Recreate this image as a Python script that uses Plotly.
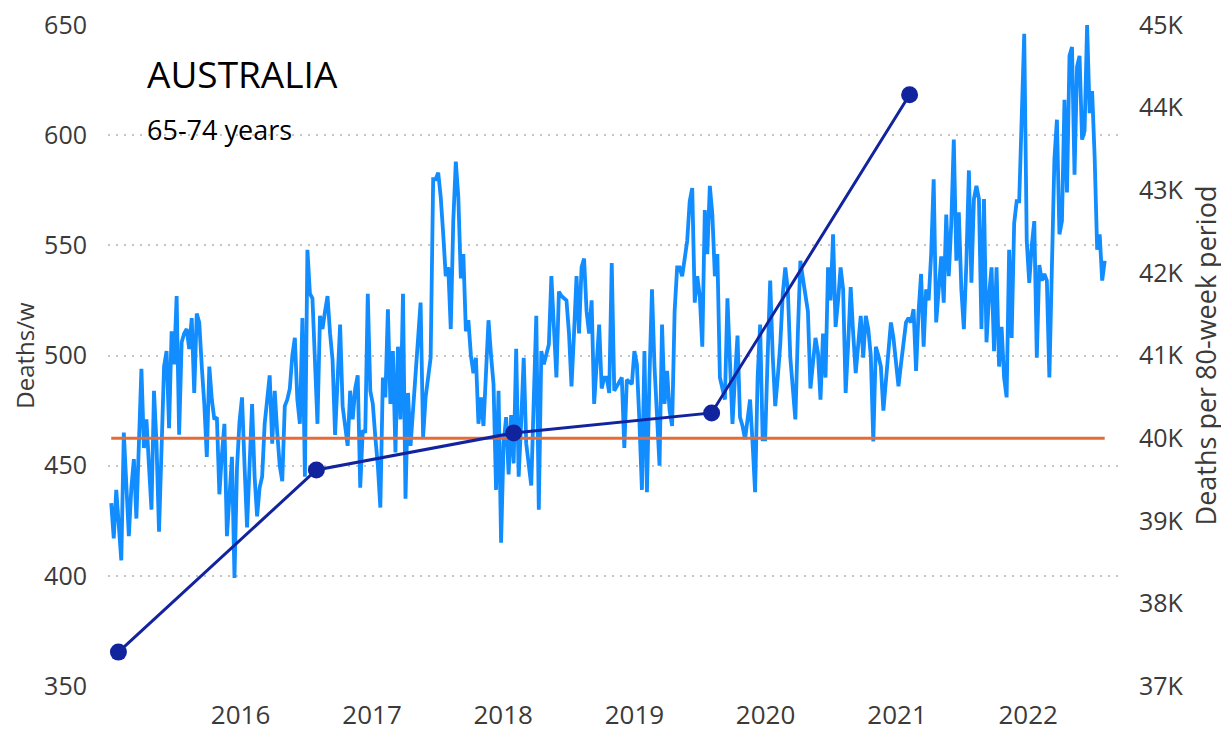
import datetime as dt
import plotly.graph_objects as go

# ---- Data -------------------------------------------------------------
START_WEEK = dt.date(2015, 1, 6)

weekly_deaths = [
    433, 417, 439, 425, 407, 465, 440, 418, 440, 453, 426, 460, 494, 458, 471, 450, 430, 484, 460, 420,
    460, 495, 502, 467, 511, 496, 527, 464, 506, 510, 512, 503, 517, 483, 519, 515, 495, 478, 454, 495,
    480, 471, 472, 437, 455, 469, 418, 440, 454, 399, 449, 470, 481, 450, 422, 450, 478, 445, 427, 440,
    445, 469, 480, 491, 460, 484, 465, 450, 443, 477, 480, 485, 500, 508, 480, 469, 517, 445, 548, 528,
    526, 495, 469, 518, 512, 520, 527, 510, 498, 464, 490, 514, 477, 468, 459, 484, 471, 485, 491, 440,
    466, 465, 528, 484, 478, 463, 450, 431, 490, 481, 521, 478, 502, 456, 504, 471, 528, 435, 483, 459,
    475, 489, 505, 524, 463, 481, 490, 499, 580, 580, 583, 572, 555, 536, 540, 512, 561, 588, 572, 535,
    546, 511, 516, 500, 492, 499, 469, 481, 468, 490, 516, 500, 487, 439, 484, 415, 460, 472, 446, 473,
    451, 503, 445, 470, 499, 460, 450, 441, 480, 518, 430, 502, 496, 500, 505, 536, 510, 490, 529, 527,
    526, 525, 510, 486, 510, 536, 510, 540, 544, 520, 510, 525, 478, 500, 514, 485, 490, 490, 483, 542,
    484, 486, 488, 490, 458, 489, 488, 487, 502, 496, 470, 439, 502, 438, 490, 530, 495, 470, 450, 514,
    478, 493, 475, 468, 520, 540, 540, 536, 545, 552, 570, 576, 524, 536, 527, 504, 566, 546, 577, 564,
    536, 546, 490, 485, 480, 526, 500, 469, 490, 509, 472, 468, 462, 470, 480, 460, 438, 490, 514, 462,
    462, 500, 534, 500, 477, 490, 505, 528, 540, 530, 499, 485, 471, 510, 543, 535, 527, 520, 485, 495,
    508, 501, 480, 510, 490, 540, 525, 555, 513, 525, 540, 530, 483, 505, 531, 510, 492, 505, 518, 499,
    518, 512, 500, 461, 504, 500, 495, 475, 490, 505, 515, 508, 495, 486, 496, 505, 515, 517, 515, 521,
    493, 520, 537, 504, 530, 525, 546, 580, 515, 530, 545, 524, 564, 536, 560, 598, 543, 565, 530, 512,
    542, 584, 533, 571, 577, 571, 512, 571, 506, 527, 540, 502, 540, 495, 513, 490, 481, 548, 508, 560,
    570, 570, 610, 646, 552, 533, 550, 561, 499, 541, 534, 537, 534, 490, 540, 589, 607, 555, 561, 616,
    574, 636, 640, 582, 631, 636, 598, 602, 650, 610, 620, 590, 548, 555, 534, 543,
]

period_dates = ["2015-01-26", "2016-07-30", "2018-01-30", "2019-08-04", "2021-02-05"]
period_deaths = [37410, 39615, 40063, 40305, 44155]

BASELINE = 40000

left_ticks = [350, 400, 450, 500, 550, 600, 650]
right_ticks = [37000, 38000, 39000, 40000, 41000, 42000, 43000, 44000, 45000]
right_tick_text = ["37K", "38K", "39K", "40K", "41K", "42K", "43K", "44K", "45K"]
year_ticks = ["2016-01-01", "2017-01-01", "2018-01-01", "2019-01-01",
              "2020-01-01", "2021-01-01", "2022-01-01"]
year_labels = ["2016", "2017", "2018", "2019", "2020", "2021", "2022"]

TITLE = "AUSTRALIA"
SUBTITLE = "65-74 years"

# ---- Figure -----------------------------------------------------------
week_dates = [START_WEEK + dt.timedelta(weeks=i) for i in range(len(weekly_deaths))]

FONT = "Open Sans"
TXT = "#3b3a39"

fig = go.Figure()

fig.add_trace(go.Scatter(
    x=week_dates, y=weekly_deaths, mode="lines",
    line=dict(color="#118DFF", width=3.8), yaxis="y", showlegend=False,
    cliponaxis=False,
))

fig.add_trace(go.Scatter(
    x=[week_dates[0], week_dates[-1]], y=[BASELINE, BASELINE], mode="lines",
    line=dict(color="#E66C37", width=3), yaxis="y2", showlegend=False,
))

fig.add_trace(go.Scatter(
    x=period_dates, y=period_deaths, mode="lines+markers",
    line=dict(color="#12239E", width=3),
    marker=dict(color="#12239E", size=17),
    yaxis="y2", showlegend=False,
))

fig.update_layout(
    width=1229, height=731,
    margin=dict(l=100, r=119, t=17, b=53, autoexpand=False),
    paper_bgcolor="white", plot_bgcolor="white",
    font=dict(family=FONT, color=TXT, size=20),
    xaxis=dict(
        range=["2014-12-28", "2022-09-08"],
        tickvals=year_ticks, ticktext=year_labels,
        showgrid=False, zeroline=False, showline=False,
        tickfont=dict(size=26, color=TXT), ticks="", ticklabelstandoff=11,
    ),
    yaxis=dict(
        range=[350, 650], tickvals=left_ticks,
        showgrid=True, gridcolor="#c6c6c6", griddash="2px,6px", gridwidth=1.5,
        zeroline=False, showline=False,
        tickfont=dict(size=25, color=TXT), ticklabelstandoff=20,
        ticklabeloverflow="allow",
        title=dict(text="Deaths/w", font=dict(size=24, color=TXT), standoff=8),
    ),
    yaxis2=dict(
        range=[37000, 45000], tickvals=right_ticks, ticktext=right_tick_text,
        overlaying="y", side="right",
        showgrid=False, zeroline=False, showline=False,
        tickfont=dict(size=25, color=TXT), ticklabelstandoff=20,
        ticklabeloverflow="allow",
        title=dict(text="Deaths per 80-week period", font=dict(size=27, color=TXT), standoff=14),
    ),
    annotations=[
        dict(text=TITLE, xref="paper", yref="paper", x=0.037, y=0.968,
             xanchor="left", yanchor="top", showarrow=False,
             font=dict(size=37, color="#000000", family=FONT)),
        dict(text=SUBTITLE, xref="paper", yref="paper", x=0.037, y=0.873,
             xanchor="left", yanchor="top", showarrow=False,
             font=dict(size=27, color="#000000", family=FONT)),
    ],
)

fig.write_html("out.html")
